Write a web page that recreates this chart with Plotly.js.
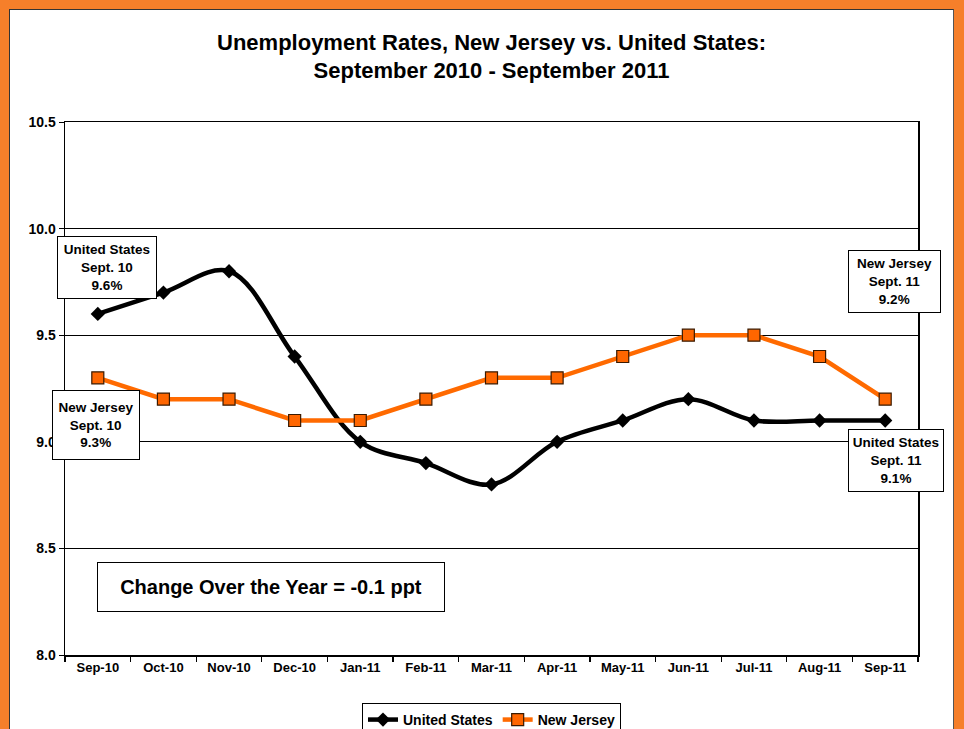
<!DOCTYPE html>
<html>
<head>
<meta charset="utf-8">
<script src="https://cdn.plot.ly/plotly-3.0.1.min.js"></script>
<style>
  html, body { margin: 0; padding: 0; }
  body { width: 964px; height: 729px; background: #F67F2A; position: relative; overflow: hidden; }
  #chart { position: absolute; left: 9px; top: 9px; width: 943px; height: 720px;
           border-left: 1px solid #333; border-top: 1px solid #333; border-right: 1px solid #555; background: #fff; }
</style>
</head>
<body>
<div id="chart"></div>
<script>
const months = ["Sep-10","Oct-10","Nov-10","Dec-10","Jan-11","Feb-11","Mar-11","Apr-11","May-11","Jun-11","Jul-11","Aug-11","Sep-11"];
const unitedStates = [9.6, 9.7, 9.8, 9.4, 9.0, 8.9, 8.8, 9.0, 9.1, 9.2, 9.1, 9.1, 9.1];
const newJersey = [9.3, 9.2, 9.2, 9.1, 9.1, 9.2, 9.3, 9.3, 9.4, 9.5, 9.5, 9.4, 9.2];
const yTicks = [8.0, 8.5, 9.0, 9.5, 10.0, 10.5];
const yTickLabels = ["8.0", "8.5", "9.0", "9.5", "10.0", "10.5"];

const FONT = "Liberation Sans, Arial, sans-serif";
const idx = months.map((m, i) => i);

const traces = [
  {
    x: idx, y: unitedStates, name: "<b>United States</b>", type: "scatter", mode: "lines+markers",
    line: { color: "#000000", width: 4.5, shape: "spline", smoothing: 1 },
    marker: { symbol: "diamond", size: 11, color: "#000000" }
  },
  {
    x: idx, y: newJersey, name: "<b>New Jersey</b>", type: "scatter", mode: "lines+markers",
    line: { color: "#FF6A00", width: 4.5 },
    marker: { symbol: "square", size: 12, color: "#FF6600", line: { color: "#3a1a00", width: 1.2 } }
  }
];

function box(text, x, y, w, h, size) {
  return {
    text: text, x: x, y: y, xref: "x", yref: "y", showarrow: false,
    font: { family: FONT, size: size, color: "#000" },
    bgcolor: "#ffffff", bordercolor: "#000000", borderwidth: 1, borderpad: 4,
    width: w, height: h, align: "center", valign: "middle"
  };
}

const annotations = [
  box("<b>United States<br>Sept. 10<br>9.6%</b>", 0.14, 9.818, 90, 53, 13.5),
  box("<b>New Jersey<br>Sept. 10<br>9.3%</b>", -0.03, 9.079, 78, 60, 13.5),
  box("<b>New Jersey<br>Sept. 11<br>9.2%</b>", 12.14, 9.752, 83, 53, 13.5),
  box("<b>United States<br>Sept. 11<br>9.1%</b>", 12.165, 8.912, 86, 53, 13.5),
  box("<b>Change Over the Year = -0.1 ppt</b>", 2.64, 8.319, 338, 40, 20)
];

const layout = {
  width: 943, height: 720,
  margin: { l: 55, r: 35, t: 112, b: 75, autoexpand: false },
  paper_bgcolor: "#ffffff", plot_bgcolor: "#ffffff",
  font: { family: FONT, color: "#000" },
  title: {
    text: "<b>Unemployment Rates, New Jersey vs. United States:<br>September 2010 - September 2011</b>",
    font: { family: FONT, size: 22, color: "#000" },
    x: 0.5, xanchor: "center", xref: "paper", y: 0.945, yanchor: "middle", yref: "container"
  },
  xaxis: {
    type: "linear", range: [-0.5, 12.5], tickmode: "array", tickvals: idx,
    ticktext: months.map(m => "<b>" + m + "</b>"),
    showgrid: false, zeroline: false, showline: true, linecolor: "#000", linewidth: 1.5, mirror: true,
    ticks: "", tickfont: { family: FONT, size: 13, color: "#000" }, fixedrange: true
  },
  xaxis2: {
    overlaying: "x", type: "linear", range: [-0.5, 12.5], tickmode: "array",
    tickvals: [-0.5,0.5,1.5,2.5,3.5,4.5,5.5,6.5,7.5,8.5,9.5,10.5,11.5,12.5],
    ticktext: Array(14).fill(""), ticks: "outside", ticklen: 6, tickcolor: "#000", tickwidth: 1.2,
    showgrid: false, zeroline: false, showline: false, side: "bottom", anchor: "y"
  },
  yaxis: {
    range: [8.0, 10.5], tickmode: "array", tickvals: yTicks,
    ticktext: yTickLabels.map(t => "<b>" + t + "</b>"),
    showgrid: true, gridcolor: "#000", gridwidth: 1, zeroline: false,
    showline: true, linecolor: "#000", linewidth: 1.5, mirror: true,
    ticks: "outside", ticklen: 5, tickcolor: "#000",
    tickfont: { family: FONT, size: 14, color: "#000" }, fixedrange: true
  },
  showlegend: true,
  legend: {
    orientation: "h", x: 0.5, xanchor: "center", y: -0.09, yanchor: "top",
    bordercolor: "#000", borderwidth: 1, bgcolor: "#fff",
    font: { family: FONT, size: 14, color: "#000" }, itemwidth: 30, tracegroupgap: 0
  },
  annotations: annotations
};

traces.push({ x: [0], y: [8.0], xaxis: "x2", yaxis: "y", mode: "markers", marker: { opacity: 0 }, showlegend: false, hoverinfo: "skip" });

Plotly.newPlot("chart", traces, layout, { displayModeBar: false, staticPlot: true });
</script>
</body>
</html>
